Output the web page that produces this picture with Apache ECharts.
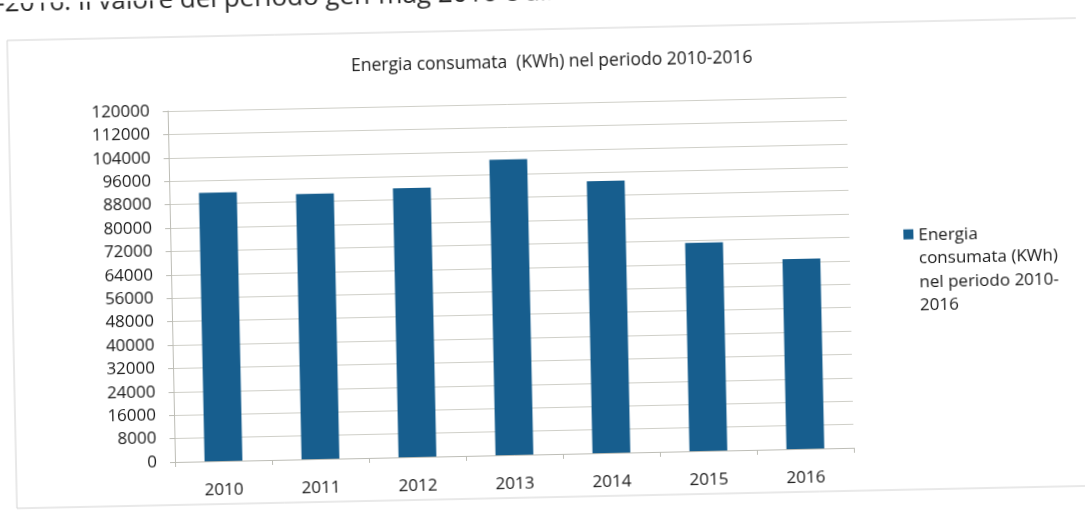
<!DOCTYPE html>
<html>
<head>
<meta charset="utf-8">
<script src="https://cdn.jsdelivr.net/npm/echarts@6/dist/echarts.min.js"></script>
<style>
  html, body { margin: 0; padding: 0; background: #fff; overflow: hidden; }
  /* the printed page sits slightly askew */
  #chart { width: 1085px; height: 513px; transform-origin: 175px 462px; transform: rotate(-1.2deg); }
</style>
</head>
<body>
<div id="chart"></div>
<script>
// Data
const years = ['2010', '2011', '2012', '2013', '2014', '2015', '2016'];
const energyKWh = [91800, 90700, 92000, 101000, 93000, 71200, 65000];
const seriesName = 'Energia consumata (KWh) nel periodo 2010-2016';
const legendLines = ['Energia', 'consumata (KWh)', 'nel periodo 2010-', '2016'];
const chartTitle = 'Energia consumata  (KWh) nel periodo 2010-2016';
const pageLine = '-2016. Il valore del periodo gen-mag 2016 è alla';
const yMin = 0, yMax = 120000, yStep = 8000;

const FONT = "'Open Sans', sans-serif";
const INK = '#1b1b1b';
const BAR = '#175e8e';
const GRID = '#cfcfc8';

const chart = echarts.init(document.getElementById('chart'), null, { renderer: 'canvas' });

chart.setOption({
  backgroundColor: '#ffffff',
  animation: false,
  textStyle: { fontFamily: FONT },
  title: {
    text: chartTitle,
    left: 560,
    top: 61,
    textAlign: 'center',
    padding: 0,
    textStyle: { fontFamily: FONT, fontSize: 17.5, fontWeight: 'normal', color: INK }
  },
  legend: {
    left: 903,
    top: 234,
    orient: 'vertical',
    itemWidth: 10,
    itemHeight: 94,
    // square sits beside the first line of the wrapped label
    icon: 'path://M0,0L0,0M0,5.75h10v10h-10zM0,94L0,94',
    formatter: () => legendLines.join('\n'),
    textStyle: { fontFamily: FONT, fontSize: 17, lineHeight: 23.5, color: INK },
    data: [seriesName]
  },
  grid: { left: 175, right: 231, top: 111, bottom: 51, containLabel: false },
  xAxis: {
    type: 'category',
    data: years,
    axisLine: { show: true, lineStyle: { color: '#bdbdb6', width: 1 } },
    axisTick: { show: true, length: 5, lineStyle: { color: '#bdbdb6' } },
    axisLabel: { margin: 21, fontFamily: FONT, fontSize: 17, color: INK }
  },
  yAxis: {
    type: 'value',
    min: yMin,
    max: yMax,
    interval: yStep,
    axisLine: { show: true, lineStyle: { color: '#bdbdb6', width: 1 } },
    axisTick: { show: true, length: 5, lineStyle: { color: '#bdbdb6' } },
    splitLine: { show: true, lineStyle: { color: GRID, width: 1 } },
    axisLabel: { margin: 18, fontFamily: FONT, fontSize: 17, color: INK, formatter: v => String(v) }
  },
  series: [{
    name: seriesName,
    type: 'bar',
    data: energyKWh,
    barCategoryGap: '61%',
    itemStyle: { color: BAR }
  }],
  graphic: [
    {
      type: 'rect',
      silent: true,
      shape: { x: 16, y: 37, width: 1120, height: 468 },
      style: { fill: 'none', stroke: '#d2d2d2', lineWidth: 1 }
    },
    {
      type: 'text',
      silent: true,
      x: 6,
      y: 1,
      style: { text: pageLine, font: "26px 'Open Sans', sans-serif", fill: '#262626', verticalAlign: 'middle' }
    }
  ]
});
</script>
</body>
</html>
